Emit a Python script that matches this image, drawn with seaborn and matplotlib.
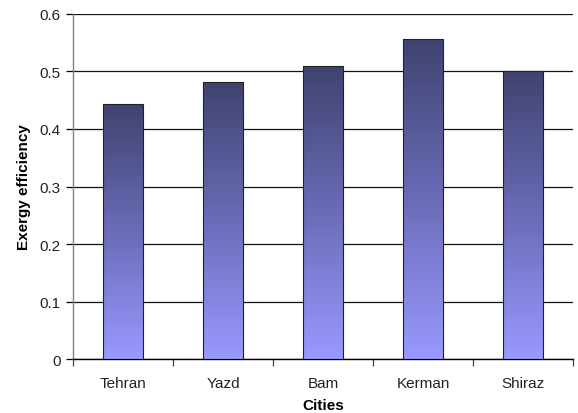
import numpy as np
import pandas as pd
import matplotlib
matplotlib.use("Agg")
import matplotlib.pyplot as plt
import seaborn as sns
from matplotlib.colors import LinearSegmentedColormap

cities = ["Tehran", "Yazd", "Bam", "Kerman", "Shiraz"]
efficiency = [0.443, 0.481, 0.510, 0.556, 0.500]

df = pd.DataFrame({"Cities": cities, "Exergy efficiency": efficiency})

sns.set_style("white")
plt.rcParams["font.family"] = ["Liberation Sans", "DejaVu Sans"]

fig = plt.figure(figsize=(5.78, 4.14), dpi=100)
ax = fig.add_axes([0.127, 0.130, 0.864, 0.834])

sns.barplot(data=df, x="Cities", y="Exergy efficiency", ax=ax, width=0.4,
            color="#9999ff", edgecolor="#222222", linewidth=0.8, zorder=3)

# vertical gradient fill for each bar (dark at top, light at bottom)
cmap = LinearSegmentedColormap.from_list("grad", ["#9999ff", "#6a6cb8", "#40436f"])
grad = np.linspace(0, 1, 256).reshape(-1, 1)
for patch in ax.patches:
    x0, y0 = patch.get_x(), patch.get_y()
    w, h = patch.get_width(), patch.get_height()
    im = ax.imshow(grad, cmap=cmap, aspect="auto", origin="lower",
                   extent=[x0, x0 + w, y0, y0 + h], zorder=3.5)
    im.set_clip_path(patch)
    patch.set_facecolor("none")
    patch.set_zorder(4)

ax.set_xlim(-0.5, 4.5)
ax.set_ylim(0, 0.6)
ax.set_yticks(np.arange(0, 0.61, 0.1))
ax.set_yticklabels(["0", "0.1", "0.2", "0.3", "0.4", "0.5", "0.6"])
ax.yaxis.grid(True, color="#111111", linewidth=0.9, zorder=1)
ax.set_axisbelow(True)

# x ticks at category boundaries
ax.set_xticks(np.arange(-0.5, 5, 1), minor=False)
ax.set_xticklabels([])
ax.set_xticks(np.arange(5), minor=True)
ax.set_xticklabels(cities, minor=True)
ax.tick_params(axis="x", which="major", bottom=True, direction="out", length=5,
               color="#444444", width=0.9)
ax.tick_params(axis="x", which="minor", bottom=True, length=0, pad=12,
               labelsize=11, labelcolor="#222222")
ax.tick_params(axis="y", left=True, direction="out", length=5, color="#000000",
               width=0.9, labelsize=11, labelcolor="#222222", pad=4)

for s in ["top", "right"]:
    ax.spines[s].set_visible(False)
ax.spines["left"].set_color("#808080")
ax.spines["bottom"].set_color("#000000")
ax.spines["left"].set_linewidth(1.0)
ax.spines["bottom"].set_linewidth(1.0)

ax.set_xlabel("Cities", fontsize=11, fontweight="bold", labelpad=6, color="#000000")
ax.set_ylabel("Exergy efficiency", fontsize=11, fontweight="bold", labelpad=6,
              color="#000000")

fig.savefig("out.png", dpi=100)
